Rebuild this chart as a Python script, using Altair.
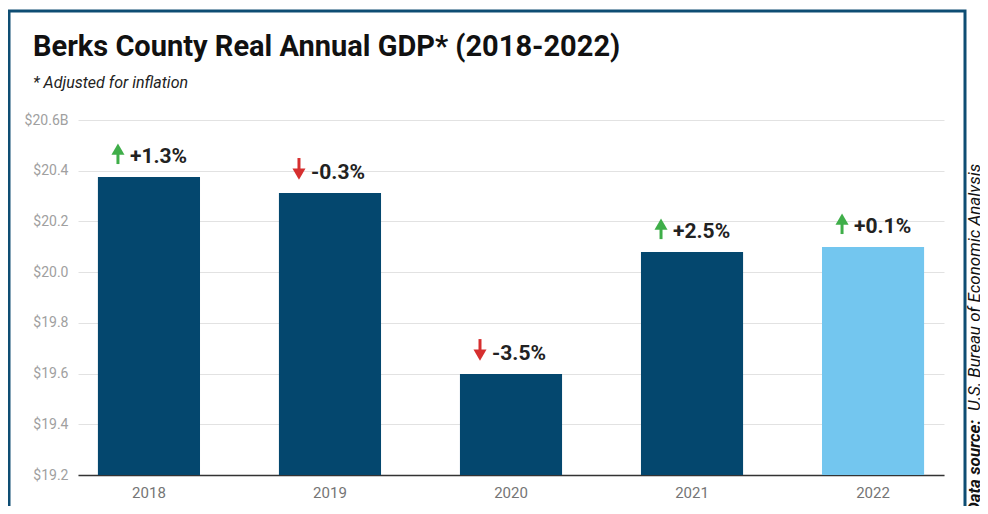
import altair as alt
import pandas as pd

years = ["2018", "2019", "2020", "2021", "2022"]
gdp = [20.375, 20.312, 19.598, 20.079, 20.099]
changes = ["+1.3%", "-0.3%", "-3.5%", "+2.5%", "+0.1%"]
directions = ["up", "down", "down", "up", "up"]
groups = ["past", "past", "past", "past", "latest"]
y_ticks = [19.2, 19.4, 19.6, 19.8, 20.0, 20.2, 20.4, 20.6]
source_bold = ["Data source:"]
source_rest = ["U.S. Bureau of Economic Analysis"]
title_text = ["Berks County Real Annual GDP* (2018-2022)"]
subtitle_text = ["* Adjusted for inflation"]

GREEN = "#3fae49"
RED = "#d62f2f"

df = pd.DataFrame({"year": years, "gdp": gdp, "change": changes,
                   "direction": directions, "group": groups})

x = alt.X("year:N", title=None,
          scale=alt.Scale(paddingInner=0.436, paddingOuter=0.11),
          axis=alt.Axis(labelAngle=0, labelColor="#757575", labelFontSize=15,
                        labelFont="Roboto", domainColor="#333333", domainWidth=1.5,
                        ticks=False, labelPadding=10, grid=False))
y = alt.Y("gdp:Q", title=None,
          scale=alt.Scale(domain=[19.2, 20.6], zero=False, nice=False),
          axis=alt.Axis(values=y_ticks, grid=True, gridColor="#e2e2e2", domain=False,
                        ticks=False, labelColor="#a0a0a0", labelFontSize=14,
                        labelFont="Roboto", labelPadding=10,
                        labelExpr="datum.value > 20.55 ? '$' + format(datum.value, '.1f') + 'B' : '$' + format(datum.value, '.1f')"))

base = alt.Chart(df)

bars = base.mark_bar().encode(
    x=x, y=y, y2=alt.datum(19.2),
    color=alt.condition("datum.group == 'latest'", alt.value("#73c6ef"), alt.value("#04476e")),
)

labels = base.mark_text(align="left", baseline="middle", dx=-19, dy=-20,
                        fontSize=21, fontWeight="bold", font="Roboto",
                        color="#222222").encode(x=x, y=y, text="change:N")

up = base.transform_filter("datum.direction == 'up'")
down = base.transform_filter("datum.direction == 'down'")

up_stem = up.mark_rule(color=GREEN, strokeWidth=3, xOffset=-31, yOffset=-24,
                       y2Offset=-13).encode(x=x, y=y, y2="gdp:Q")
up_head = up.mark_point(shape="triangle-up", filled=True, size=170, opacity=1,
                        color=GREEN, xOffset=-31, yOffset=-28).encode(x=x, y=y)
down_stem = down.mark_rule(color=RED, strokeWidth=3, xOffset=-31, yOffset=-35,
                           y2Offset=-23).encode(x=x, y=y, y2="gdp:Q")
down_head = down.mark_point(shape="triangle-down", filled=True, size=170, opacity=1,
                            color=RED, xOffset=-31, yOffset=-19).encode(x=x, y=y)

one = pd.DataFrame({"k": [0]})
frame = alt.Chart(one).mark_rect(
    fill=None, stroke="#0e4d73", strokeWidth=3).encode(
    x=alt.value(-69), x2=alt.value(887), y=alt.value(-109), y2=alt.value(430))

title = alt.Chart(pd.DataFrame({"t": title_text})).mark_text(
    align="left", baseline="alphabetic", fontSize=29, fontWeight="bold",
    font="Roboto", color="#111111").encode(
    x=alt.value(-45), y=alt.value(-64), text="t:N")
subtitle = alt.Chart(pd.DataFrame({"t": subtitle_text})).mark_text(
    align="left", baseline="alphabetic", fontSize=16, fontStyle="italic",
    font="Roboto", color="#222222").encode(
    x=alt.value(-45), y=alt.value(-32), text="t:N")

src1 = alt.Chart(pd.DataFrame({"t": source_bold})).mark_text(
    angle=270, align="left", baseline="alphabetic", fontSize=17, font="Roboto",
    fontWeight="bold", fontStyle="italic", color="#111111").encode(
    x=alt.value(902), y=alt.value(393), text="t:N")
src2 = alt.Chart(pd.DataFrame({"t": source_rest})).mark_text(
    angle=270, align="left", baseline="alphabetic", fontSize=17, font="Roboto",
    fontStyle="italic", color="#111111").encode(
    x=alt.value(902), y=alt.value(291), text="t:N")

chart = alt.layer(frame, bars, labels, up_stem, up_head, down_stem, down_head,
                  title, subtitle, src1, src2).properties(
    width=866, height=355,
    background="white",
    autosize=alt.AutoSizeParams(type="none"),
    padding={"left": 70, "top": 112, "right": 36, "bottom": 31},
).configure_view(stroke="transparent", strokeWidth=0)

chart.save("out.html", embed_options={"renderer": "svg", "actions": False})
